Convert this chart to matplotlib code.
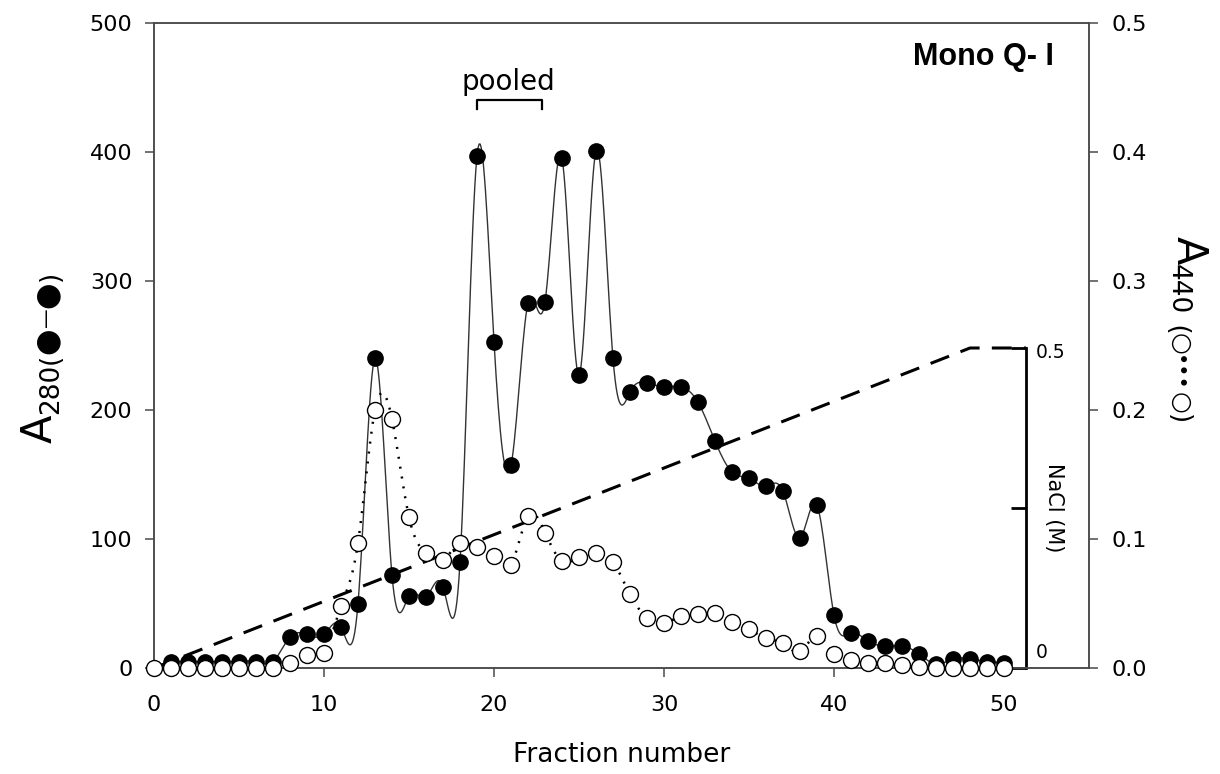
"""
Mono Q-I elution profile: A280 (filled), A440 (open) and NaCl gradient.
"""

import numpy as np
import matplotlib
matplotlib.use('Agg')
import matplotlib.pyplot as plt
from matplotlib.transforms import IdentityTransform

# ── data ───────────────────────────────────────────────────────────────────
FRAC_A280 = list(range(1, 51))
A280 = [5, 5, 5, 5, 5, 5, 5, 24, 26, 26,
        32, 50, 240, 72, 56, 55, 63, 82, 397, 253,
        157, 283, 284, 395, 227, 401, 240, 214, 221, 218,
        218, 206, 176, 152, 147, 141, 137, 101, 126, 41,
        27, 21, 17, 17, 11, 3, 7, 7, 5, 4]

FRAC_A440 = list(range(0, 51))
A440 = [0.0, 0.0, 0.0, 0.0, 0.0, 0.0, 0.0, 0.0, 0.004, 0.010,
        0.012, 0.048, 0.097, 0.200, 0.193, 0.117, 0.089, 0.084, 0.097, 0.094,
        0.087, 0.080, 0.118, 0.105, 0.083, 0.086, 0.089, 0.082, 0.057, 0.039,
        0.035, 0.040, 0.042, 0.043, 0.036, 0.030, 0.023, 0.019, 0.013, 0.025,
        0.011, 0.006, 0.004, 0.004, 0.002, 0.001, 0.0, 0.0, 0.0, 0.0, 0.0]

# linear NaCl gradient (M)
NACL_FRAC = [0, 48, 51.3]
NACL_M = [0.0, 0.5, 0.5]
NACL_AXIS_X = 51.3

POOLED = (19, 22.8)

FONT = 'DejaVu Sans'
plt.rcParams['font.family'] = [FONT]
plt.rcParams['mathtext.fontset'] = 'dejavusans'

SPINE_COL = '#4a4a4a'


def spline(x, y, n=16):
    """Natural cubic spline through the points (smooth connecting line)."""
    x = np.asarray(x, float)
    y = np.asarray(y, float)
    h = np.diff(x)
    m = len(x)
    A = np.zeros((m, m))
    r = np.zeros(m)
    A[0, 0] = A[-1, -1] = 1.0
    for i in range(1, m - 1):
        A[i, i - 1] = h[i - 1]
        A[i, i] = 2 * (h[i - 1] + h[i])
        A[i, i + 1] = h[i]
        r[i] = 3 * ((y[i + 1] - y[i]) / h[i] - (y[i] - y[i - 1]) / h[i - 1])
    c = np.linalg.solve(A, r)
    xs, ys = [], []
    for i in range(m - 1):
        t = np.linspace(0, h[i], n, endpoint=False)
        b = (y[i + 1] - y[i]) / h[i] - h[i] * (2 * c[i] + c[i + 1]) / 3
        d = (c[i + 1] - c[i]) / (3 * h[i])
        xs.append(x[i] + t)
        ys.append(y[i] + b * t + c[i] * t ** 2 + d * t ** 3)
    xs.append([x[-1]])
    ys.append([y[-1]])
    return np.concatenate(xs), np.concatenate(ys)


def stacked_label(fig, pieces, x0, y0, rot):
    """Rotated label built from pieces (text, size, baseline shift) in pixels."""
    renderer = fig.canvas.get_renderer()
    y = y0
    for txt, size, dx in pieces:
        t = fig.text(x0 + dx, y, txt, fontsize=size, rotation=rot,
                     rotation_mode='anchor', ha='left', va='baseline',
                     transform=IdentityTransform(), family=FONT)
        bb = t.get_window_extent(renderer)
        y = bb.y1 if rot == 90 else bb.y0


W, H = 1220, 774
fig = plt.figure(figsize=(W / 100, H / 100), dpi=100)
ax = fig.add_axes([154 / W, 1 - 668 / H, (1089 - 154) / W, (668 - 23) / H])
ax3 = ax.twinx()   # NaCl scale
ax2 = ax.twinx()   # A440 scale
ax3.set_zorder(0)
ax.set_zorder(1)
ax2.set_zorder(2)
ax.patch.set_visible(False)

# ── NaCl gradient ──────────────────────────────────────────────────────────
ax3.plot(NACL_FRAC, NACL_M, color='k', lw=2.2, ls=(0, (6.5, 4)),
         solid_capstyle='butt', dash_capstyle='butt')
ax3.set_ylim(0, 0.5 * 645 / 320)
for s in ['top', 'left', 'bottom']:
    ax3.spines[s].set_visible(False)
ax3.spines['right'].set_position(('data', NACL_AXIS_X))
ax3.spines['right'].set_bounds(0, 0.5)
ax3.spines['right'].set_linewidth(2.0)
ax3.spines['right'].set_color('k')
ax3.set_yticks([0, 0.25, 0.5])
ax3.set_yticklabels(['', '', ''])
ax3.tick_params(axis='y', direction='in', length=11, width=2.0, color='k')
ax3.annotate('0', xy=(NACL_AXIS_X, 0), xytext=(7, 4), textcoords='offset points',
             ha='left', va='bottom', fontsize=13.5)
ax3.annotate('0.5', xy=(NACL_AXIS_X, 0.5), xytext=(7, -3), textcoords='offset points',
             ha='left', va='center', fontsize=13.5)
ax3.annotate('NaCl (M)', xy=(NACL_AXIS_X, 0.25), xytext=(13, 0),
             textcoords='offset points', ha='left', va='center',
             rotation=270, fontsize=15)

# ── A280 ───────────────────────────────────────────────────────────────────
sx, sy = spline(FRAC_A280, A280)
ax.plot(sx, sy, color='#333333', lw=1.0, zorder=2, clip_on=False)
ax.plot(FRAC_A280, A280, ls='none', marker='o', ms=11, mfc='k', mec='k',
        zorder=3, clip_on=False)

# ── A440 ───────────────────────────────────────────────────────────────────
ox, oy = spline(FRAC_A440, A440)
ax2.plot(ox, oy, color='k', lw=1.8, ls=(0, (0.8, 3.2)), zorder=2, clip_on=False)
ax2.plot(FRAC_A440, A440, ls='none', marker='o', ms=11.5, mfc='white',
         mec='k', mew=1.0, zorder=3, clip_on=False)

# ── axes ───────────────────────────────────────────────────────────────────
ax.set_xlim(0, 55)
ax.set_ylim(0, 500)
ax2.set_ylim(0, 0.5)
ax.set_xticks(range(0, 51, 10))
ax.set_yticks(range(0, 501, 100))
ax2.set_yticks(np.arange(0, 0.51, 0.1))
ax2.set_yticklabels([f'{v:.1f}' for v in np.arange(0, 0.51, 0.1)])

for a in (ax, ax2):
    for s in a.spines.values():
        s.set_color(SPINE_COL)
        s.set_linewidth(1.1)
ax.tick_params(axis='x', direction='out', length=6.5, width=1.1,
               color=SPINE_COL, labelsize=16, pad=13)
ax.tick_params(axis='y', direction='out', length=6.5, width=1.1,
               color=SPINE_COL, labelsize=16, pad=9)
ax2.tick_params(axis='y', direction='out', length=6.5, width=1.1,
                color=SPINE_COL, labelsize=16, pad=10)

ax.set_xlabel('Fraction number', fontsize=19)
ax.xaxis.set_label_coords(0.5, -0.115)

# ── annotations ────────────────────────────────────────────────────────────
ax.text(0.962, 0.947, 'Mono Q- I', transform=ax.transAxes, ha='right',
        va='center', fontsize=22, fontweight='bold', family='Liberation Sans')
ax.text(sum(POOLED) / 2 - 0.05, 454, 'pooled', ha='center', va='center',
        fontsize=20)
ax.plot([POOLED[0], POOLED[0], POOLED[1], POOLED[1]], [433, 440, 440, 433],
        color='k', lw=1.6)

# axis titles, composed of pieces
stacked_label(fig, [('A', 30, 0), ('280', 19, 6), ('(', 19, 6),
                    ('●', 22, 4), ('—', 14, 0), ('●', 22, 4), (')', 19, 6)],
              x0=52, y0=H - 443, rot=90)
stacked_label(fig, [('A', 30, 0), ('440', 19, -6), (' (', 19, -6),
                    ('○', 18, -4), ('•••', 15, -5), ('○', 18, -4), (')', 19, -6)],
              x0=1177, y0=H - 236, rot=270)

fig.savefig('out.png', dpi=100)
